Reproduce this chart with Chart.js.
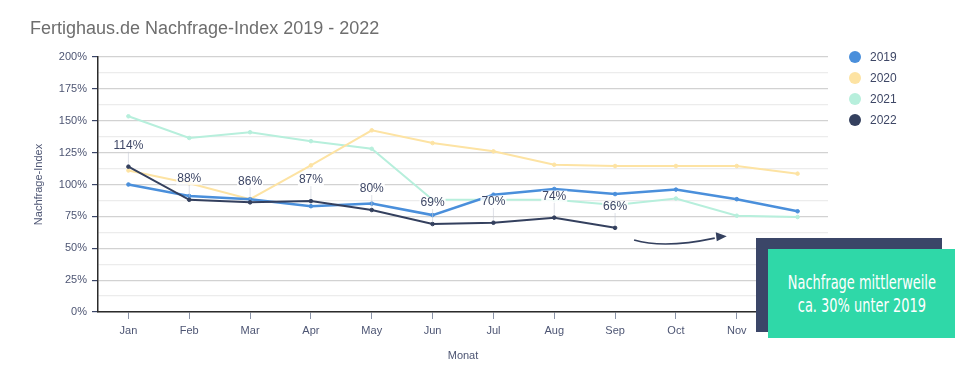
<!DOCTYPE html>
<html>
<head>
<meta charset="utf-8">
<script src="https://cdn.jsdelivr.net/npm/chart.js@4.4.1/dist/chart.umd.min.js"></script>
<style>
  html, body { margin: 0; padding: 0; background: #fff; }
  #wrap { position: relative; width: 978px; height: 376px; font-family: "Liberation Sans", Arial, sans-serif; }
  #chart { position: absolute; left: 0; top: 0; }
  #title { position: absolute; left: 30px; top: 18px; font-size: 18px; color: #6e6e6e; white-space: nowrap; }
  #legend { position: absolute; left: 849px; top: 46px; list-style: none; margin: 0; padding: 0; }
  #legend li { display: flex; align-items: center; height: 21px; font-size: 12px; color: #3e4766; }
  #legend .dot { width: 12px; height: 12px; border-radius: 50%; margin-right: 9px; }
  .box-back { position: absolute; left: 756px; top: 238px; width: 186px; height: 94px; background: #3b4668; }
  .box-front { position: absolute; left: 768px; top: 249px; width: 187px; height: 89px; background: #2fd8a8;
    color: #fff; display: flex; align-items: center; justify-content: center; text-align: center; }
  .box-front div { font-family: "DejaVu Sans Condensed", "Liberation Sans Narrow", sans-serif; font-size: 20px; line-height: 23px;
    transform: scaleX(0.72); white-space: nowrap; }
</style>
</head>
<body>
<div id="wrap">
  <canvas id="chart" width="978" height="376"></canvas>
  <div id="title">Fertighaus.de Nachfrage-Index 2019 - 2022</div>
  <ul id="legend"></ul>
  <div class="box-back"></div>
  <div class="box-front"><div>Nachfrage mittlerweile<br>ca. 30% unter 2019</div></div>
</div>
<script>
// Monate (x-Achse)
const months = ['Jan', 'Feb', 'Mar', 'Apr', 'May', 'Jun', 'Jul', 'Aug', 'Sep', 'Oct', 'Nov', 'Dec'];
// Index-Werte in Prozent
const data2019 = [100, 91, 88.5, 83, 85, 76, 92, 96.5, 92.5, 96, 88.5, 79];
const data2020 = [111, 101, 88.5, 115, 142.5, 132.5, 126, 115.5, 114.5, 114.5, 114.5, 108.5];
const data2021 = [153.5, 136.5, 141, 134, 128, 88, 88, 88, 84, 89, 75.5, 74.5];
const data2022 = [114, 88, 86, 87, 80, 69, 70, 74, 66, null, null, null];
// y-Achse
const yTickLabels = ['0%', '25%', '50%', '75%', '100%', '125%', '150%', '175%', '200%'];

const ink = '#4d5573';
const navy = '#34405e';

const isMajor = (v) => Math.abs(v % 25) < 0.001;

// Beschriftung der 2022-Punkte
const pointLabels = {
  id: 'pointLabels',
  afterDatasetsDraw(c) {
    const idx = c.data.datasets.findIndex((d) => d.label === '2022');
    const meta = c.getDatasetMeta(idx);
    const { ctx } = c;
    ctx.save();
    ctx.font = '12px "Liberation Sans", Arial, sans-serif';
    ctx.textAlign = 'center';
    ctx.textBaseline = 'middle';
    meta.data.forEach((pt, i) => {
      const v = data2022[i];
      if (v === null) return;
      const ty = pt.y - 21;
      ctx.strokeStyle = 'rgba(200,205,215,0.6)';
      ctx.lineWidth = 1;
      ctx.beginPath();
      ctx.moveTo(pt.x, ty + 6);
      ctx.lineTo(pt.x, pt.y - 3);
      ctx.stroke();
      const txt = `${v}%`;
      const w = ctx.measureText(txt).width;
      ctx.fillStyle = 'rgba(255,255,255,0.85)';
      ctx.fillRect(pt.x - w / 2 - 1, ty - 6, w + 2, 12);
      ctx.fillStyle = '#3e4766';
      ctx.fillText(txt, pt.x, ty);
    });
    ctx.restore();
  },
};

// geschwungener Pfeil Richtung Annotation
const trendArrow = {
  id: 'trendArrow',
  afterDraw(c) {
    const x = c.scales.x;
    const y = c.scales.y;
    const x0 = x.getPixelForValue(8) + 19;
    const x1 = x.getPixelForValue(10) - 10;
    const y0 = y.getPixelForValue(56.5);
    const y1 = y.getPixelForValue(59.5);
    const { ctx } = c;
    ctx.save();
    ctx.strokeStyle = navy;
    ctx.fillStyle = navy;
    ctx.lineWidth = 1.6;
    ctx.beginPath();
    ctx.moveTo(x0, y0);
    ctx.quadraticCurveTo(x0 + 30, y0 + 9, x1 - 12, y1 + 2);
    ctx.stroke();
    ctx.beginPath();
    ctx.moveTo(x1, y1);
    ctx.lineTo(x1 - 11, y1 - 4);
    ctx.lineTo(x1 - 10, y1 + 5);
    ctx.closePath();
    ctx.fill();
    ctx.restore();
  },
};

const mkSet = (label, values, color, order, width) => ({
  label,
  data: values,
  borderColor: color,
  backgroundColor: color,
  pointBackgroundColor: color,
  pointBorderColor: color,
  borderWidth: width,
  pointRadius: 1.8,
  pointBorderWidth: 1,
  tension: 0,
  order,
});

const chart = new Chart(document.getElementById('chart'), {
  type: 'line',
  data: {
    labels: months,
    datasets: [
      mkSet('2019', data2019, '#4a8fdb', 1, 2.5),
      mkSet('2020', data2020, '#fde3a3', 2, 2),
      mkSet('2021', data2021, '#b7efdc', 3, 2),
      mkSet('2022', data2022, navy, 0, 2),
    ],
  },
  options: {
    responsive: false,
    animation: false,
    layout: { padding: { top: 57, right: 150, left: 0, bottom: 0 } },
    scales: {
      x: {
        offset: true,
        afterFit: (s) => { s.height = 64; },
        border: { color: '#2b2b2b', width: 1.5 },
        grid: { display: true, drawOnChartArea: false, offset: false, tickLength: 7, tickColor: '#8a93a8' },
        ticks: { color: ink, font: { size: 11, family: '"Liberation Sans", Arial' }, padding: 5, maxRotation: 0 },
        title: { display: true, text: 'Monat', color: ink, font: { size: 11, family: '"Liberation Sans", Arial' }, padding: { top: 0, bottom: 13 } },
      },
      y: {
        min: 0,
        max: 200,
        afterFit: (s) => { s.width = 98; },
        border: { color: '#2b2b2b', width: 1.5 },
        grid: {
          color: (c) => (isMajor(c.tick.value) ? '#d2d2d2' : '#ececec'),
          tickColor: (c) => (isMajor(c.tick.value) ? '#3b4668' : 'rgba(0,0,0,0)'),
          tickLength: 6,
          lineWidth: 1.2,
        },
        ticks: {
          stepSize: 12.5,
          autoSkip: false,
          color: ink,
          padding: 5,
          font: { size: 11, family: '"Liberation Sans", Arial' },
          callback: (v) => (isMajor(v) ? yTickLabels[v / 25] : ''),
        },
        title: { display: true, text: 'Nachfrage-Index', color: ink, font: { size: 11, family: '"Liberation Sans", Arial' }, padding: { top: 32, bottom: 0 } },
      },
    },
    plugins: {
      legend: { display: false },
      tooltip: { enabled: false },
    },
  },
  plugins: [pointLabels, trendArrow],
});

// HTML-Legende aus den Datensätzen
const ul = document.getElementById('legend');
chart.data.datasets.forEach((ds) => {
  const li = document.createElement('li');
  const dot = document.createElement('span');
  dot.className = 'dot';
  dot.style.background = ds.borderColor;
  li.appendChild(dot);
  li.appendChild(document.createTextNode(ds.label));
  ul.appendChild(li);
});
</script>
</body>
</html>
